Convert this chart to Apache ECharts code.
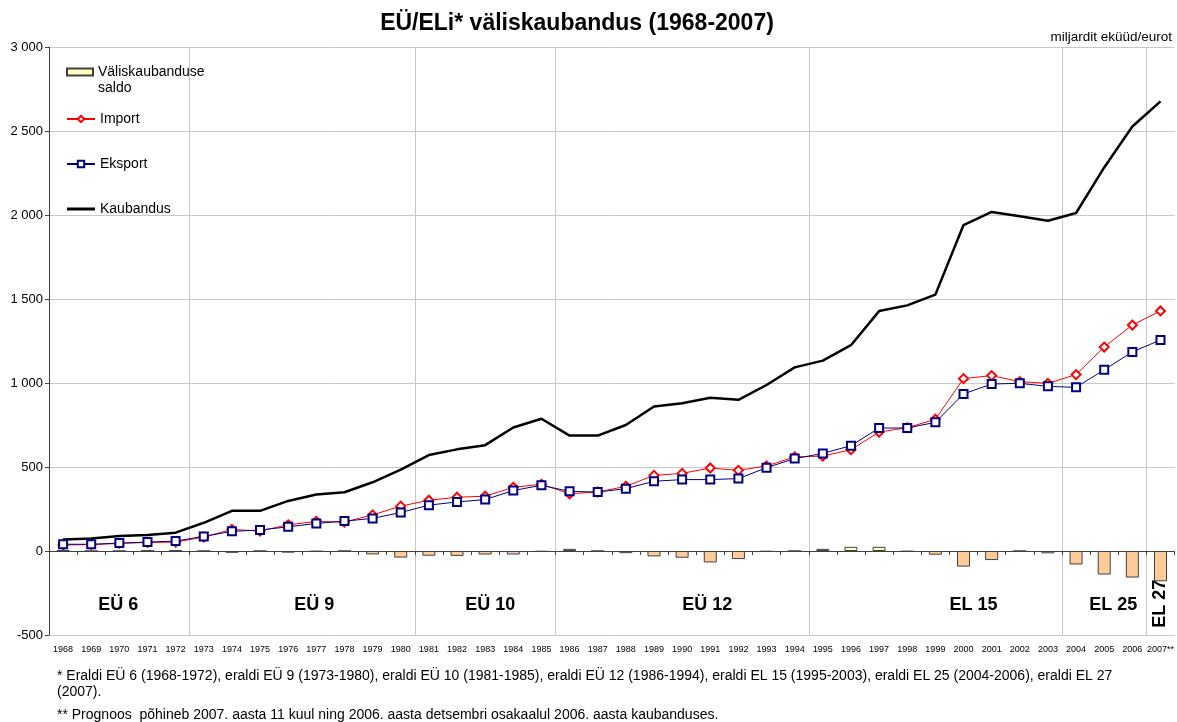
<!DOCTYPE html>
<html>
<head>
<meta charset="utf-8">
<title>EÜ/ELi väliskaubandus</title>
<script src="https://cdn.jsdelivr.net/npm/echarts@6/dist/echarts.min.js"></script>
<style>
  html, body { margin: 0; padding: 0; background: #fff; }
  #chart { width: 1177px; height: 722px; }
</style>
</head>
<body>
<div id="chart"></div>
<script>
// aastad
const years = ['1968', '1969', '1970', '1971', '1972', '1973', '1974', '1975', '1976', '1977',
  '1978', '1979', '1980', '1981', '1982', '1983', '1984', '1985', '1986', '1987',
  '1988', '1989', '1990', '1991', '1992', '1993', '1994', '1995', '1996', '1997',
  '1998', '1999', '2000', '2001', '2002', '2003', '2004', '2005', '2006', '2007**'];

// miljardit eküüd/eurot, loetud pildilt
const importData = [36, 38, 45, 51, 53, 83, 128, 119, 156, 176,
  172, 215, 267, 302, 320, 326, 379, 397, 341, 351,
  385, 450, 462, 494, 480, 506, 560, 565, 603, 708,
  734, 784, 1026, 1044, 1008, 998, 1050, 1214, 1345, 1429];
const eksportData = [40, 40, 47, 53, 59, 87, 117, 125, 144, 164,
  178, 194, 229, 273, 292, 306, 360, 391, 355, 351,
  371, 415, 425, 425, 431, 496, 550, 581, 627, 732,
  732, 766, 935, 994, 998, 980, 974, 1079, 1185, 1256];
const kaubandusData = [69, 75, 89, 95, 109, 168, 239, 239, 298, 336,
  350, 409, 484, 571, 605, 630, 735, 787, 687, 687,
  750, 860, 880, 912, 900, 988, 1093, 1133, 1225, 1428,
  1462, 1526, 1940, 2018, 1992, 1966, 2012, 2283, 2527, 2676];
const saldoData = [4, 0, 0, 3, 4, 0, -11, 0, -10, -3,
  0, -20, -39, -28, -29, -21, -21, -4, 13, 0,
  -13, -32, -40, -68, -48, -4, 0, 13, 25, 25,
  -3, -22, -93, -54, 0, -14, -80, -140, -158, -180];

// y-telje jaotised
const yMin = -500;
const yMax = 3000;
const yStep = 500;

// laienemisetapid
const eraStarts = ['1973', '1981', '1986', '1995', '2004', '2007**'];
const eraNames = ['EÜ 6', 'EÜ 9', 'EÜ 10', 'EÜ 12', 'EL 15', 'EL 25', 'EL 27'];
const eraAt = ['1970', '1977', '1983', '1991', '2000', '2005', '2007**'];
// sildi nihe pikslites (ainult kujundus)
const eraLabelShift = [-1, -2, 5, -3, 10, 9, 1];

const footnote1 = '* Eraldi EÜ 6 (1968-1972), eraldi EÜ 9 (1973-1980), eraldi EÜ 10 (1981-1985), eraldi EÜ 12 (1986-1994), eraldi EL 15 (1995-2003), eraldi EL 25 (2004-2006), eraldi EL 27\n(2007).';
const footnote2 = '** Prognoos  põhineb 2007. aasta 11 kuul ning 2006. aasta detsembri osakaalul 2006. aasta kaubanduses.';

const FONT = '"Liberation Sans", Arial, sans-serif';

function fmtThousands(v) {
  const s = String(Math.abs(v)).replace(/\B(?=(\d{3})+(?!\d))/g, ' ');
  return (v < 0 ? '-' : '') + s;
}

const chart = echarts.init(document.getElementById('chart'));

chart.setOption({
  animation: false,
  textStyle: { fontFamily: FONT },
  title: {
    text: 'EÜ/ELi* väliskaubandus (1968-2007)',
    left: 572,
    textAlign: 'center',
    top: 7,
    textStyle: { fontFamily: FONT, fontSize: 23, fontWeight: 'bold', color: '#000' }
  },
  legend: [
    {
      // ikooni alumine tühi osa joondab kasti esimese tekstireaga
      data: [{ name: 'Väliskaubanduse saldo', icon: 'path://M0,0H26V7H0ZM0,23' }],
      orient: 'vertical',
      left: 61,
      top: 59,
      itemWidth: 26,
      itemHeight: 23,
      formatter: function () { return 'Väliskaubanduse\nsaldo'; },
      textStyle: { fontFamily: FONT, fontSize: 14, color: '#000', lineHeight: 16 }
    },
    {
      data: ['Import', 'Eksport', { name: 'Kaubandus', icon: 'path://M0,0H28V3H0Z' }],
      orient: 'vertical',
      left: 61,
      top: 106,
      itemGap: 29,
      itemWidth: 28,
      itemHeight: 8,
      textStyle: { fontFamily: FONT, fontSize: 14, color: '#000', lineHeight: 16 }
    }
  ],
  grid: { left: 49, right: 2, top: 47, bottom: 87 },
  xAxis: [
    {
      type: 'category',
      data: years,
      position: 'bottom',
      axisLine: { show: false, onZero: false },
      axisTick: { show: false },
      axisLabel: { interval: 0, fontSize: 9, color: '#000', margin: 10, fontFamily: FONT },
      splitLine: {
        show: true,
        showMaxLine: false,
        interval: function (idx, val) { return eraStarts.indexOf(val) >= 0; },
        lineStyle: { color: '#c8c8c8', width: 1 }
      }
    },
    {
      type: 'category',
      data: years,
      position: 'top',
      axisLine: { show: true, onZero: true, lineStyle: { color: '#404040', width: 1 } },
      axisTick: { show: true, inside: true, interval: 0, length: 4, lineStyle: { color: '#404040' } },
      axisLabel: { show: false },
      splitLine: { show: false }
    }
  ],
  yAxis: {
    type: 'value',
    min: yMin,
    max: yMax,
    interval: yStep,
    axisLine: { show: true, lineStyle: { color: '#404040', width: 1 } },
    axisTick: { show: true, length: 4, lineStyle: { color: '#404040' } },
    axisLabel: { fontSize: 13, color: '#000', margin: 6, fontFamily: FONT, formatter: fmtThousands },
    splitLine: { show: true, lineStyle: { color: '#c8c8c8', width: 1 } }
  },
  series: [
    {
      name: 'Väliskaubanduse saldo',
      type: 'bar',
      barWidth: 13,
      itemStyle: { color: '#FFFFC0', borderColor: '#404040', borderWidth: 1 },
      data: saldoData.map(function (v) {
        return { value: v, itemStyle: { color: v < 0 ? '#FFCC99' : '#FFFFC0' } };
      })
    },
    {
      name: 'Kaubandus',
      type: 'line',
      symbol: 'none',
      lineStyle: { color: '#000', width: 2.5 },
      itemStyle: { color: '#000' },
      data: kaubandusData
    },
    {
      name: 'Import',
      type: 'line',
      symbol: 'emptyDiamond',
      symbolSize: 9,
      lineStyle: { color: '#ff0000', width: 1 },
      itemStyle: { color: '#ff0000', borderWidth: 1 },
      data: importData
    },
    {
      name: 'Eksport',
      type: 'line',
      symbol: 'emptyRect',
      symbolSize: 8,
      lineStyle: { color: '#000080', width: 1 },
      itemStyle: { color: '#000080', borderWidth: 1.2 },
      data: eksportData
    },
    {
      name: 'eras',
      type: 'scatter',
      symbolSize: 0,
      silent: true,
      itemStyle: { opacity: 1 },
      label: {
        show: true,
        position: 'inside',
        fontFamily: FONT,
        fontSize: 18,
        fontWeight: 'bold',
        color: '#000',
        formatter: function (p) { return eraNames[p.dataIndex]; }
      },
      data: eraAt.map(function (c, i) {
        const item = { value: [c, -320], label: { offset: [eraLabelShift[i], 0] } };
        if (i === eraAt.length - 1) item.label.rotate = 90;
        return item;
      })
    }
  ],
  graphic: [
    {
      type: 'text',
      right: 5,
      top: 30,
      style: { text: 'miljardit eküüd/eurot', font: '13.5px ' + FONT, fill: '#000' }
    },
    {
      type: 'text',
      left: 57,
      top: 668,
      style: { text: footnote1, font: '14px ' + FONT, fill: '#000', lineHeight: 16 }
    },
    {
      type: 'text',
      left: 57,
      top: 708,
      style: { text: footnote2, font: '14px ' + FONT, fill: '#000' }
    }
  ]
});
</script>
</body>
</html>
